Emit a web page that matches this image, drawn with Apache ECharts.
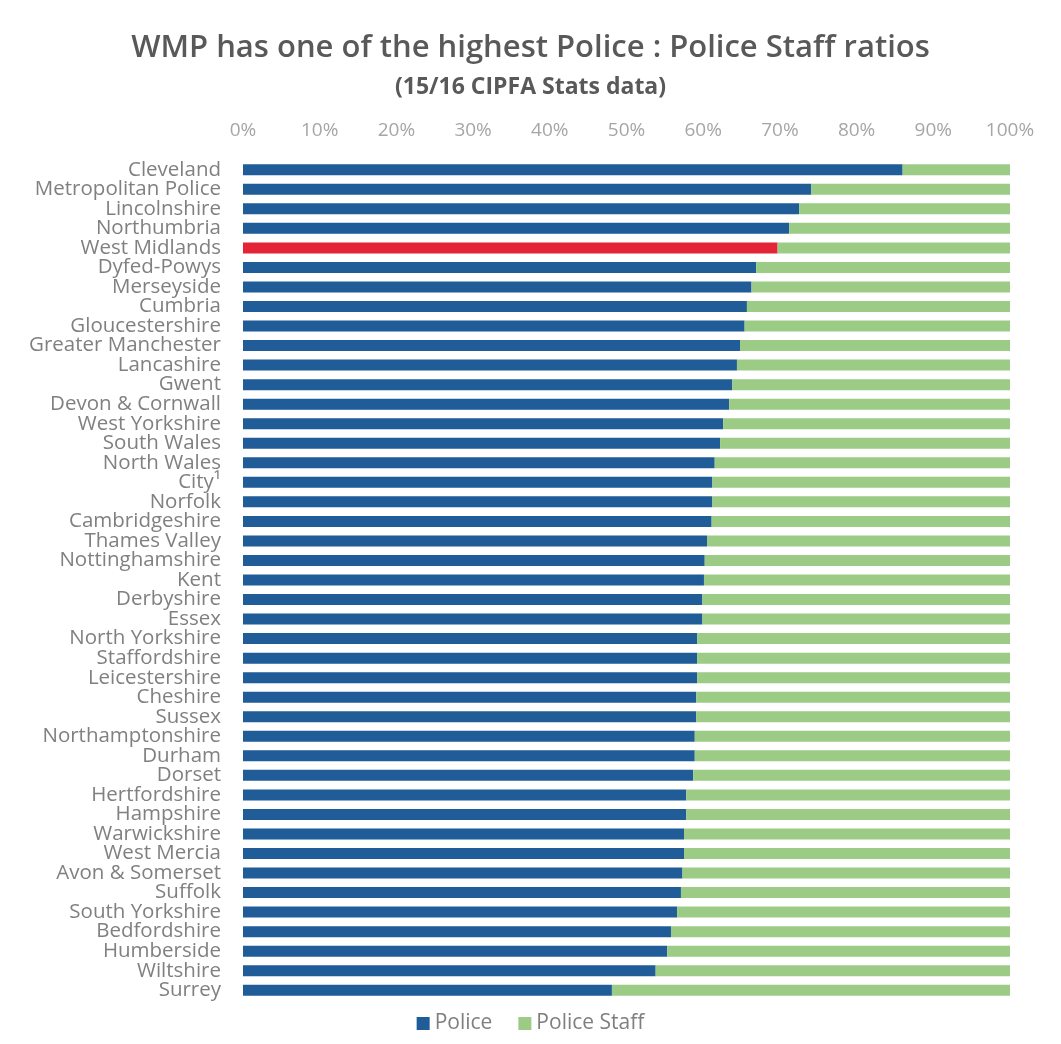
<!DOCTYPE html>
<html><head><meta charset="utf-8">
<script src="https://cdn.jsdelivr.net/npm/echarts@6/dist/echarts.min.js"></script>
<style>html,body{margin:0;padding:0;background:#fff}#c{width:1061px;height:1044px}</style>
</head><body><div id="c"></div>
<script>
const categories = ["Cleveland","Metropolitan Police","Lincolnshire","Northumbria","West Midlands","Dyfed-Powys","Merseyside","Cumbria","Gloucestershire","Greater Manchester","Lancashire","Gwent","Devon & Cornwall","West Yorkshire","South Wales","North Wales","City¹","Norfolk","Cambridgeshire","Thames Valley","Nottinghamshire","Kent","Derbyshire","Essex","North Yorkshire","Staffordshire","Leicestershire","Cheshire","Sussex","Northamptonshire","Durham","Dorset","Hertfordshire","Hampshire","Warwickshire","West Mercia","Avon & Somerset","Suffolk","South Yorkshire","Bedfordshire","Humberside","Wiltshire","Surrey"];
const policePct = [86.0,74.1,72.5,71.2,69.7,66.9,66.3,65.7,65.4,64.8,64.4,63.8,63.4,62.6,62.2,61.5,61.2,61.2,61.1,60.5,60.2,60.1,59.9,59.9,59.2,59.2,59.2,59.1,59.1,58.9,58.9,58.7,57.8,57.8,57.5,57.5,57.3,57.1,56.6,55.8,55.3,53.8,48.1];
const staffPct = policePct.map(v => +(100 - v).toFixed(1));
const highlight = "West Midlands";
const xTicks = [0,10,20,30,40,50,60,70,80,90,100];

const BLUE = '#1f5c98', RED = '#e42337', GREEN = '#9bcb85';
const chart = echarts.init(document.getElementById('c'));
chart.setOption({
  animation: false,
  backgroundColor: '#fff',
  title: [{
    text: 'WMP has one of the highest Police : Police Staff ratios',
    left: 'center', top: 28,
    textStyle: {fontFamily: 'Open Sans', fontSize: 31, fontWeight: 600, color: '#595959'}
  },{
    text: '(15/16 CIPFA Stats data)',
    left: 'center', top: 71,
    textStyle: {fontFamily: 'Open Sans', fontSize: 23, fontWeight: 'bold', color: '#595959'}
  }],
  legend: {
    bottom: 5, left: 'center', itemWidth: 13, itemHeight: 13, itemGap: 26,
    icon: 'rect',
    textStyle: {fontFamily: 'Open Sans', fontSize: 21, color: '#7f7f7f'},
    data: [{name:'Police', itemStyle:{color:BLUE}}, {name:'Police Staff', itemStyle:{color:GREEN}}]
  },
  grid: {left: 243, right: 51, top: 160, bottom: 44, containLabel: false},
  xAxis: {
    type: 'value', position: 'top', min: 0, max: 100, interval: 10,
    axisLabel: {formatter: v => xTicks.includes(v) ? v + '%' : '', fontFamily: 'Open Sans', fontSize: 19, color: '#a6a6a6', margin: 20},
    axisLine: {show: false}, axisTick: {show: false}, splitLine: {show: false}
  },
  yAxis: {
    type: 'category', inverse: true, data: categories,
    axisLabel: {fontFamily: 'Open Sans', fontSize: 20.5, color: '#808080', margin: 22, interval: 0, lineHeight: 19},
    axisLine: {show: false}, axisTick: {show: false}
  },
  series: [{
    name: 'Police', type: 'bar', stack: 'a', barWidth: 11,
    itemStyle: {color: BLUE},
    data: policePct.map((v, i) => categories[i] === highlight ? {value: v, itemStyle: {color: RED}} : v)
  },{
    name: 'Police Staff', type: 'bar', stack: 'a', barWidth: 11,
    itemStyle: {color: GREEN},
    data: staffPct
  }]
});
</script></body></html>
